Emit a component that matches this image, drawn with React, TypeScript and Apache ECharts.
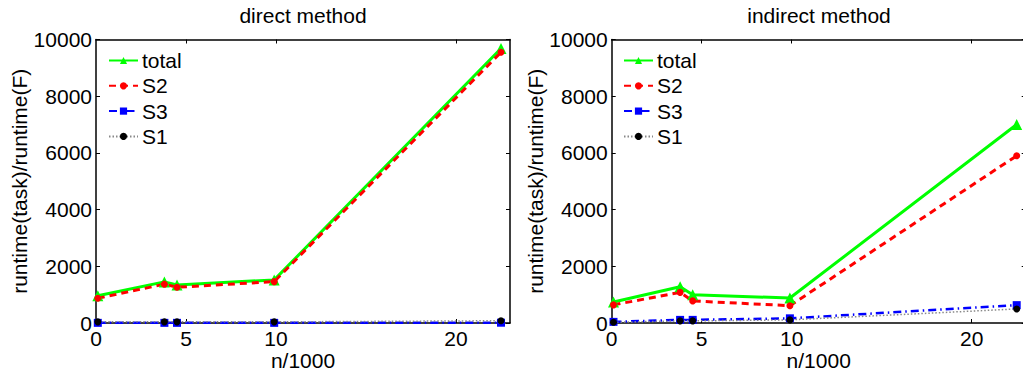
import React, { useEffect, useRef } from "react";
import * as echarts from "echarts";

// n/1000 sample positions
const xValues = [0.1, 3.8, 4.5, 9.9, 22.5];

// direct method
const directTotal = [960, 1450, 1340, 1520, 9680];
const directS2 = [870, 1370, 1260, 1460, 9550];
const directS3 = [5, 5, 5, 5, 10];
const directS1 = [40, 40, 40, 40, 80];

// indirect method
const indirectTotal = [740, 1280, 1000, 880, 7000];
const indirectS2 = [640, 1080, 780, 610, 5900];
const indirectS3 = [40, 110, 110, 165, 630];
const indirectS1 = [25, 75, 75, 110, 495];

const xTickValues = [0, 5, 10, 20];
const xTopTickValues = [5, 10, 20];
const seriesNames = ["total", "S2", "S3", "S1"];
const titles = ["direct method", "indirect method"];

const FONT = "Liberation Sans, Arial, Helvetica, sans-serif";
const FS = 21;

const pairs = (xs: number[], ys: number[]) => xs.map((x, i) => [x, ys[i]]);

function makeSeries(axisIdx: number, total: number[], s2: number[], s3: number[], s1: number[]) {
  return [
    {
      name: "total", type: "line", xAxisIndex: axisIdx, yAxisIndex: axisIdx,
      data: pairs(xValues, total), symbol: "triangle", symbolSize: 11,
      lineStyle: { color: "#00ff00", width: 3 }, itemStyle: { color: "#00ff00" },
    },
    {
      name: "S2", type: "line", xAxisIndex: axisIdx, yAxisIndex: axisIdx,
      data: pairs(xValues, s2), symbol: "circle", symbolSize: 7,
      lineStyle: { color: "#ff0000", width: 3, type: [7, 5] }, itemStyle: { color: "#ff0000" },
    },
    {
      name: "S3", type: "line", xAxisIndex: axisIdx, yAxisIndex: axisIdx,
      data: pairs(xValues, s3), symbol: "rect", symbolSize: 8,
      lineStyle: { color: "#0000ff", width: 2.5, type: [8, 4, 1.5, 4] }, itemStyle: { color: "#0000ff" },
    },
    {
      name: "S1", type: "line", xAxisIndex: axisIdx, yAxisIndex: axisIdx,
      data: pairs(xValues, s1), symbol: "circle", symbolSize: 7,
      lineStyle: { color: "#888888", width: 1.5, type: [1.5, 2] }, itemStyle: { color: "#000000" },
    },
  ];
}

const tickInside = { show: true, inside: true, length: 4, lineStyle: { color: "#000", width: 1 } };
const axisLine = { show: true, onZero: false, lineStyle: { color: "#000", width: 1.5 } };

function xAxes(gridIndex: number) {
  return [
    {
      type: "value", gridIndex, position: "bottom", min: 0, max: 23,
      axisLine, splitLine: { show: false },
      axisTick: { ...tickInside, customValues: xTickValues },
      axisLabel: { customValues: xTickValues, color: "#000", fontSize: FS, fontFamily: FONT, margin: 5, lineHeight: FS },
      name: "n/1000", nameLocation: "middle", nameGap: 27, nameMoveOverlap: false,
      nameTextStyle: { color: "#000", fontSize: FS, fontFamily: FONT, lineHeight: FS },
    },
    {
      type: "value", gridIndex, position: "top", min: 0, max: 23,
      axisLine, splitLine: { show: false },
      axisTick: { ...tickInside, customValues: xTopTickValues },
      axisLabel: { show: false },
    },
  ];
}

function yAxes(gridIndex: number) {
  return [
    {
      type: "value", gridIndex, position: "left", min: 0, max: 10000, interval: 2000,
      axisLine, splitLine: { show: false }, axisTick: tickInside,
      axisLabel: { color: "#000", fontSize: FS, fontFamily: FONT, margin: 4, formatter: (v: number) => String(v) },
      name: "runtime(task)/runtime(F)", nameLocation: "middle", nameGap: 66, nameMoveOverlap: false,
      nameTextStyle: { color: "#000", fontSize: FS, fontFamily: FONT },
    },
    {
      type: "value", gridIndex, position: "right", min: 0, max: 10000, interval: 2000,
      axisLine, splitLine: { show: false }, axisTick: tickInside,
      axisLabel: { show: false },
    },
  ];
}

function legend(left: number) {
  return {
    data: seriesNames, orient: "vertical", left, top: 50, padding: 0,
    itemWidth: 29, itemHeight: 9, itemGap: 4.3,
    textStyle: { color: "#000", fontSize: FS, fontFamily: FONT, lineHeight: 20, padding: [0, 0, 0, -1] },
    selectedMode: false,
  };
}

export default function App() {
  const ref = useRef<HTMLDivElement>(null);
  useEffect(() => {
    if (!ref.current) return;
    const chart = echarts.init(ref.current, undefined, { renderer: "svg" });
    chart.setOption({
      animation: false,
      backgroundColor: "#ffffff",
      grid: [
        { left: 96, top: 39.5, width: 414, height: 283.5, containLabel: false, outerBoundsMode: "none" },
        { left: 611.7, top: 39.5, width: 414, height: 283.5, containLabel: false, outerBoundsMode: "none" },
      ],
      xAxis: [...xAxes(0), ...xAxes(1)],
      yAxis: [...yAxes(0), ...yAxes(1)],
      legend: [legend(108), legend(623)],
      graphic: [
        { type: "text", x: 303, y: 15.5, style: { text: titles[0], fill: "#000", font: `${FS}px ${FONT}`, align: "center", verticalAlign: "middle" } },
        { type: "text", x: 819, y: 15.5, style: { text: titles[1], fill: "#000", font: `${FS}px ${FONT}`, align: "center", verticalAlign: "middle" } },
      ],
      series: [
        ...makeSeries(0, directTotal, directS2, directS3, directS1),
        ...makeSeries(2, indirectTotal, indirectS2, indirectS3, indirectS1),
      ],
    });
    return () => chart.dispose();
  }, []);
  return (
    <div
      ref={ref}
      style={{ position: "fixed", left: 0, top: 0, width: 1023, height: 373, background: "#fff" }}
    />
  );
}
